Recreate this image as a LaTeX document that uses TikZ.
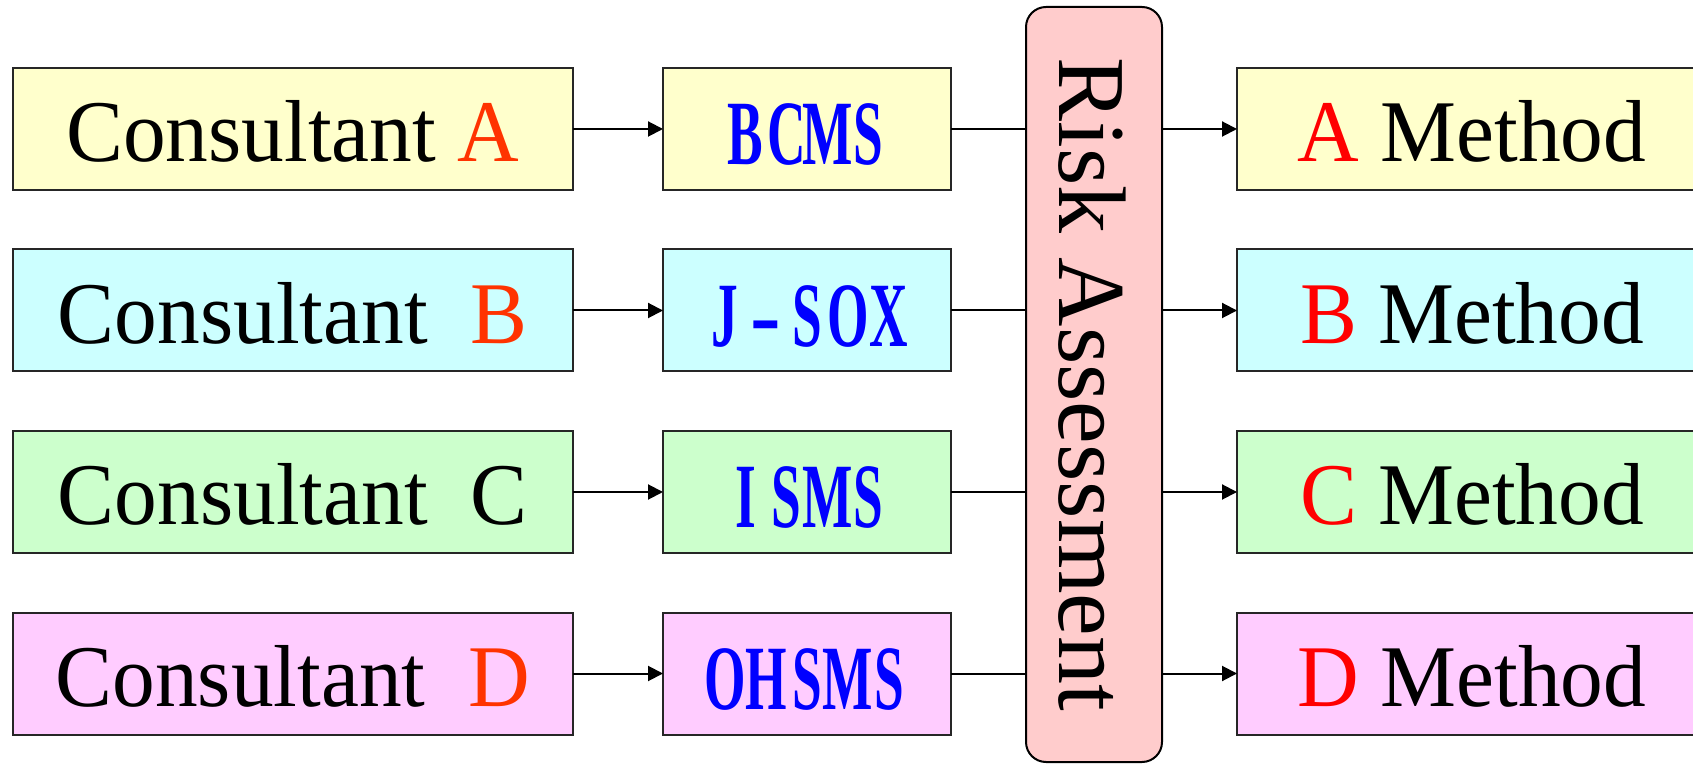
\documentclass[tikz,border=0pt]{standalone}
\usepackage{fontspec}
\usepackage{graphicx}
\setmainfont{Liberation Serif}
\newfontfamily\labfont[FakeStretch=0.97]{Liberation Serif}
\newfontfamily\riskfont{Liberation Serif}
\newfontfamily\stdfont[FakeStretch=0.58]{Liberation Serif}
\newfontfamily\hyfont{Liberation Serif}
\usetikzlibrary{arrows.meta}
\definecolor{cyel}{HTML}{FFFFCC}
\definecolor{ccya}{HTML}{CCFFFF}
\definecolor{cgrn}{HTML}{CCFFCC}
\definecolor{cpnk}{HTML}{FFCCFF}
\definecolor{crisk}{HTML}{FFCCCC}
\definecolor{corg}{HTML}{FF3300}
\definecolor{cred}{HTML}{FF0000}
\definecolor{cblue}{HTML}{0000FF}
\newcommand\mc[1]{\makebox[41pt][c]{#1}}
\tikzset{
  box/.style={draw=black!85, line width=2pt, inner sep=0pt, outer sep=0pt,
    minimum height=122pt, text height=66pt, text depth=0pt},
  cons/.style={box, minimum width=560pt, font=\labfont\fontsize{88}{88}\selectfont},
  stdbox/.style={box, minimum width=288pt, text height=72pt, text=cblue,
    font=\stdfont\bfseries\fontsize{92}{92}\selectfont},
  meth/.style={box, minimum width=470pt, font=\labfont\fontsize{88}{88}\selectfont},
  riskbox/.style={draw=black, line width=2pt, fill=crisk, rounded corners=20pt,
    minimum width=136pt, minimum height=755pt, inner sep=0pt, outer sep=0pt},
  conn/.style={line width=2pt},
  arr/.style={conn, -{Triangle[length=15pt,width=15pt]}}
}
\begin{document}
\begin{tikzpicture}[x=1pt,y=1pt]
\useasboundingbox (0,0) rectangle (1693,763);
\clip (0,0) rectangle (1693,763);
% consultants
\node[cons, fill=cyel] (ca) at (292.7,634) {Consultant \textcolor{corg}{A}};
\node[cons, fill=ccya] (cb) at (292.7,452.5) {Consultant~~\textcolor{corg}{B}};
\node[cons, fill=cgrn] (cc) at (292.7,271) {Consultant~~C};
\node[cons, fill=cpnk] (cd) at (292.7,89.5) {Consultant~~\textcolor{corg}{D}};
% standards
\node[stdbox, fill=cyel] (sa) at (807,634) {\mc{B}\mc{C}\mc{M}\mc{S}};
\node[stdbox, fill=ccya] (sb) at (807,452.5) {\mc{J}\mc{{\hyfont\bfseries -}}\mc{S}\mc{O}\mc{X}};
\node[stdbox, fill=cgrn] (sc) at (807,271) {\mc{I}\mc{S}\mc{M}\mc{S}};
\node[stdbox, fill=cpnk] (sd) at (807,89.5) {\mc{O}\mc{H}\mc{S}\mc{M}\mc{S}};
% risk assessment
\node[riskbox] (risk) at (1094,378.5) {\rotatebox{-90}{\riskfont\fontsize{96}{96}\selectfont\rule{0pt}{70pt}Risk Assessment}};
% methods
\node[meth, fill=cyel] (ma) at (1472,634) {\textcolor{cred}{A} Method};
\node[meth, fill=ccya] (mb) at (1472,452.5) {\textcolor{cred}{B} Method};
\node[meth, fill=cgrn] (mc) at (1472,271) {\textcolor{cred}{C} Method};
\node[meth, fill=cpnk] (md) at (1472,89.5) {\textcolor{cred}{D} Method};
% connectors
\foreach \c/\s/\m in {ca/sa/ma, cb/sb/mb, cc/sc/mc, cd/sd/md}{
  \draw[arr] (\c.east) -- (\s.west);
  \draw[conn] (\s.east) -- (\s.east -| risk.west);
  \draw[arr] (risk.east |- \m.west) -- (\m.west);
}
\end{tikzpicture}
\end{document}
